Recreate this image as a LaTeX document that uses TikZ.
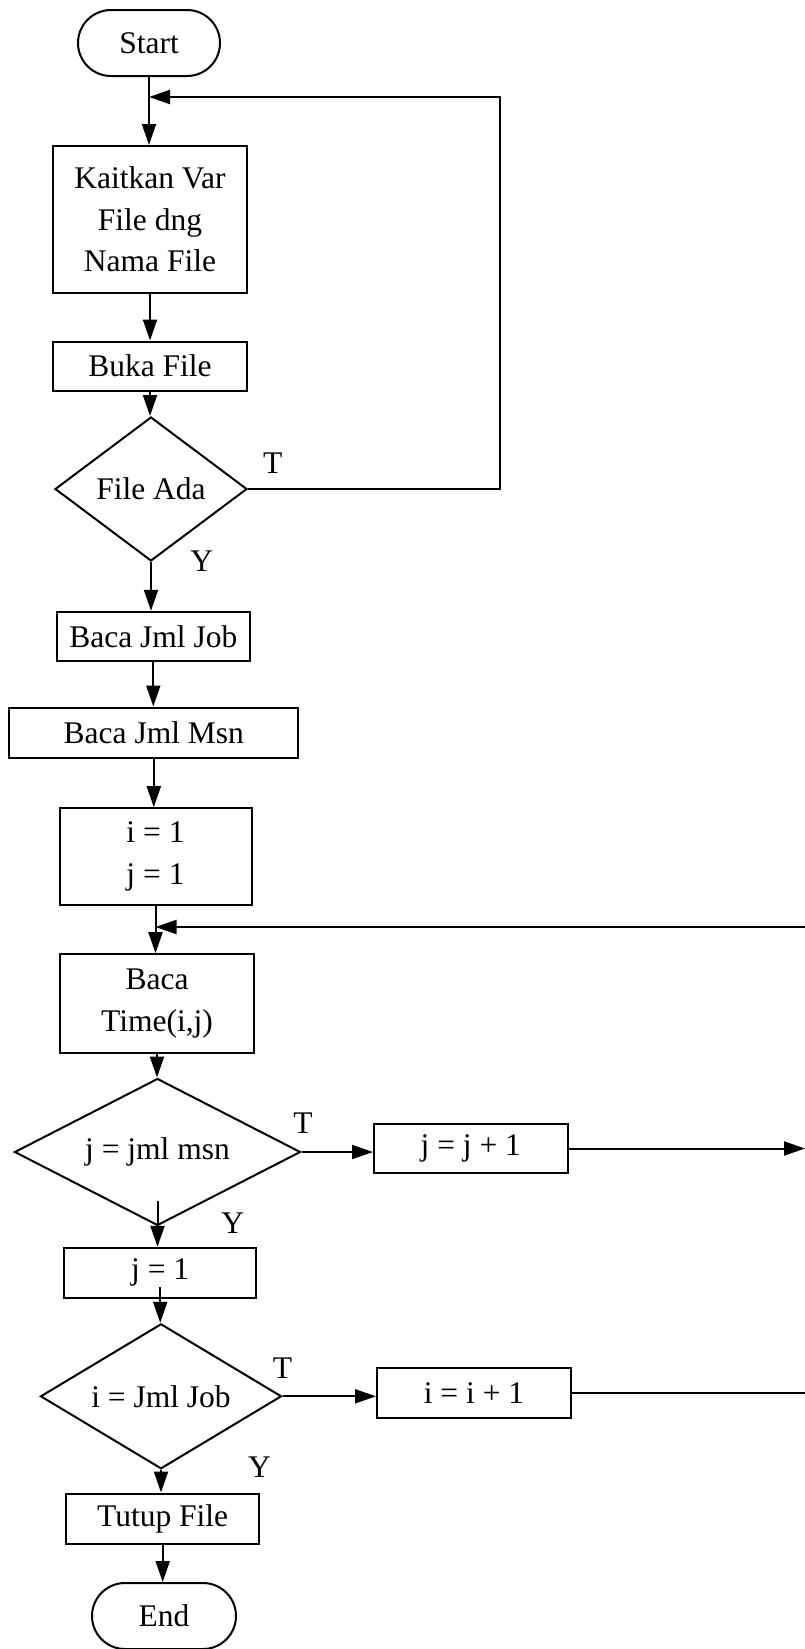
\documentclass[tikz,border=0pt]{standalone}
\usepackage{fontspec}
\setmainfont{Liberation Serif}
\usetikzlibrary{shapes.geometric,shapes.misc,arrows.meta}
\begin{document}
\begin{tikzpicture}[x=1pt,y=-1pt,
  line width=2pt,
  every node/.style={font=\fontsize{31.5}{41.7}\selectfont, inner sep=0pt},
  box/.style={draw, rectangle, align=center},
  term/.style={draw, rounded rectangle},
  decide/.style={draw, diamond},
  flow/.style={-{Triangle[length=21pt,width=14pt]}}]
\useasboundingbox (0,0) rectangle (805,1649);

% process steps
\node[term, minimum width=142pt, minimum height=66pt] (start) at (149,43) {Start};
\node[box, minimum width=194pt, minimum height=147pt] (kait) at (150,219.5) {Kaitkan Var\\File dng\\Nama File};
\node[box, minimum width=194pt, minimum height=49pt] (buka) at (150,366) {Buka File};
\node[decide, minimum width=192pt, minimum height=144pt, aspect=1.33] (ada) at (151,489) {File Ada};
\node[box, minimum width=193pt, minimum height=49pt] (job) at (153.3,636.3) {Baca Jml Job};
\node[box, minimum width=289pt, minimum height=50pt] (msn) at (153.8,732.5) {Baca Jml Msn};
\node[box, minimum width=192pt, minimum height=97pt] (init) at (155.5,856.7) {i = 1\\j = 1};
\node[box, minimum width=194pt, minimum height=99pt] (baca) at (157,1003.7) {Baca\\Time(i,j)};
\node[decide, minimum width=286pt, minimum height=147pt, aspect=2] (cj) at (157.5,1152) {j = jml msn};
\node[box, minimum width=193.5pt, minimum height=49pt] (jinc) at (470.8,1148.5) {j = j + 1};
\node[box, minimum width=192.5pt, minimum height=50pt] (jone) at (160.2,1272.8) {j = 1};
\node[decide, minimum width=241pt, minimum height=145pt, aspect=1.66] (ci) at (161,1396.3) {i = Jml Job};
\node[box, minimum width=194pt, minimum height=50pt] (iinc) at (474,1393.3) {i = i + 1};
\node[box, minimum width=193pt, minimum height=50pt] (tutup) at (162.7,1518.5) {Tutup File};
\node[term, minimum width=144pt, minimum height=66pt] (end) at (164,1616) {End};

% branch labels
\node (t1) at (272.7,462.7) {T};
\node (y1) at (201.7,561) {Y};
\node (t2) at (303,1122.7) {T};
\node (y2) at (232.7,1223.4) {Y};
\node (t3) at (282.4,1368.4) {T};
\node (y3) at (259.5,1467.1) {Y};

% loop junctions and open ends
\coordinate (m1) at (149,97);
\coordinate (r1) at (500,97);
\coordinate (e2) at (805,927);
\coordinate (m2) at (init.south |- e2);
\coordinate (e3) at (805,1148.5);
\coordinate (e4) at (805,1393.3);

% connectors
\draw[flow] (start.south) -- (start.south |- kait.north);
\draw[flow] (ada.east) -| (r1) -- (m1);
\draw[flow] (kait.south) -- (kait.south |- buka.north);
\draw[flow] (buka.south) -- (buka.south |- ada.north);
\draw[flow] (ada.south) -- (ada.south |- job.north);
\draw[flow] (job.south) -- (job.south |- msn.north);
\draw[flow] (msn.south) -- (msn.south |- init.north);
\draw[flow] (init.south) -- (init.south |- baca.north);
\draw[flow] (e2) -- (m2);
\draw[flow] (baca.south) -- (baca.south |- cj.north);
\draw[flow] (cj.east) -- (cj.east -| jinc.west);
\draw[flow] (jinc.east) -- (e3);
\draw[flow] ([yshift=26pt]cj.south) -- (cj.south |- jone.north);
\draw[flow] ([yshift=12pt]jone.south) -- (jone.south |- ci.north);
\draw[flow] (ci.east) -- (ci.east -| iinc.west);
\draw (iinc.east) -- (e4);
\draw[flow] (ci.south) -- (ci.south |- tutup.north);
\draw[flow] (tutup.south) -- (tutup.south |- end.north);
\end{tikzpicture}
\end{document}
